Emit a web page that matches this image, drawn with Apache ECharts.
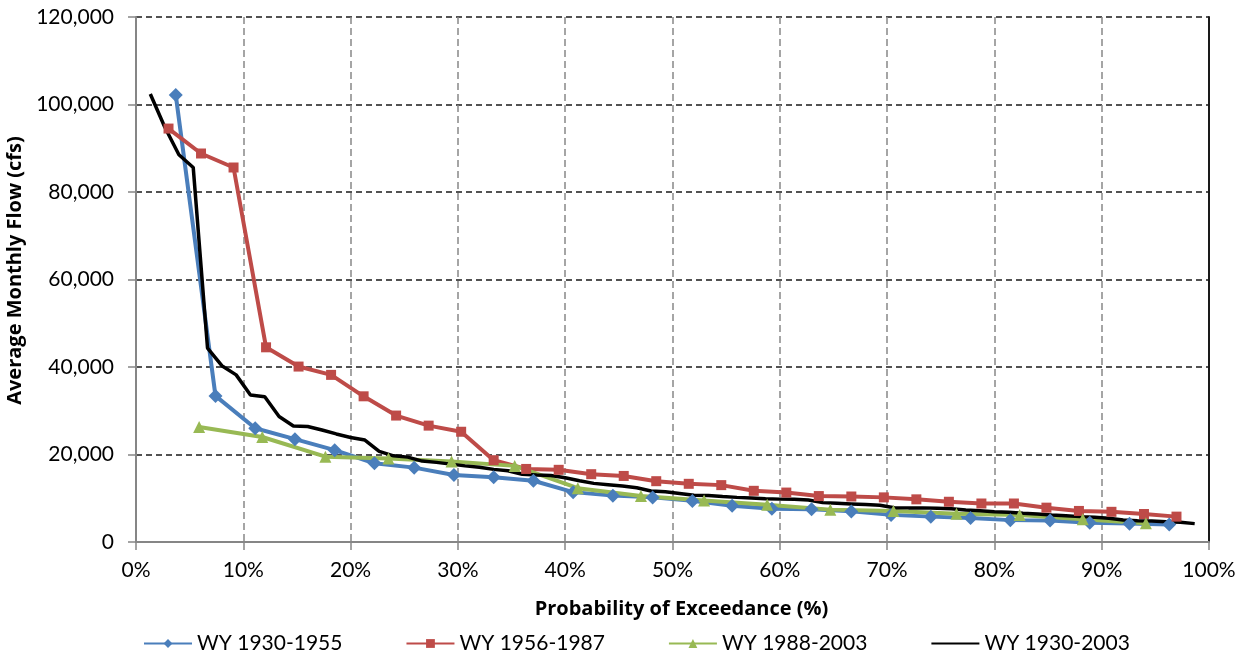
<!DOCTYPE html>
<html>
<head>
<meta charset="utf-8">
<script src="https://cdn.jsdelivr.net/npm/echarts@6/dist/echarts.min.js"></script>
<style>
  html, body { margin: 0; padding: 0; background: #fff; }
  #chart { width: 1246px; height: 657px; }
</style>
</head>
<body>
<div id="chart"></div>
<script>
// Ranked average monthly flows (cfs), highest to lowest, for each water-year period.
const seriesNames = ['WY 1930-1955', 'WY 1956-1987', 'WY 1988-2003', 'WY 1930-2003'];

const flow1930to1955 = [
  102200, 33400, 26000, 23500, 21000, 18000, 17000, 15300, 14800, 14000,
  11400, 10600, 10200, 9400, 8300, 7600, 7500, 7000, 6200, 5800,
  5500, 5000, 4900, 4400, 4200, 4000
];

const flow1956to1987 = [
  94500, 88800, 85600, 44500, 40100, 38200, 33300, 28900, 26600, 25200,
  18700, 16700, 16500, 15500, 15100, 13900, 13300, 13000, 11700, 11300,
  10500, 10400, 10200, 9750, 9200, 8800, 8800, 7850, 7100, 6900,
  6400, 5800
];

const flow1988to2003 = [
  26300, 24000, 19500, 19100, 18400, 17400, 12300, 10500, 9500, 8500,
  7400, 7100, 6450, 6150, 5200, 4300
];

const flow1930to2003 = [
  102400, 94900, 88500, 85600, 44300, 40300, 38200, 33600, 33200, 28700,
  26500, 26400, 25600, 24700, 23900, 23300, 20700, 19700, 19400, 18500,
  18200, 17800, 17400, 17100, 16600, 16300, 15500, 15300, 15200, 14700,
  14000, 13400, 13100, 12800, 12400, 11650, 11500, 11100, 10700, 10650,
  10400, 10200, 10050, 9900, 9800, 9750, 9600, 9000, 8850, 8700,
  8550, 8400, 7850, 7800, 7800, 7700, 7600, 7300, 7150, 6930,
  6780, 6550, 6400, 6170, 6020, 5800, 5640, 5410, 5030, 4870,
  4800, 4650, 4500, 4200
];

const xTicks = [0, 10, 20, 30, 40, 50, 60, 70, 80, 90, 100];
const yTicks = [0, 20000, 40000, 60000, 80000, 100000, 120000];

// Weibull plotting position: rank m of n values has exceedance m / (n + 1).
function exceedancePairs(flows) {
  const n = flows.length;
  return flows.map((q, idx) => [(idx + 1) / (n + 1) * 100, q]);
}

const FONT = 'Lato, "Open Sans", sans-serif';
const TITLE_FONT = '"Open Sans", Lato, sans-serif';

const chart = echarts.init(document.getElementById('chart'), null, { renderer: 'canvas' });

const lineSeries = (name, flows, color, symbol, symbolSize, width) => ({
  name: name,
  type: 'line',
  data: exceedancePairs(flows),
  symbol: symbol,
  symbolSize: symbolSize,
  showSymbol: symbol !== 'none',
  lineStyle: { color: color, width: width },
  itemStyle: { color: color },
  emphasis: { disabled: true },
  animation: false
});

chart.setOption({
  backgroundColor: '#ffffff',
  animation: false,
  grid: { left: 136, right: 37, top: 17, bottom: 115, containLabel: false, outerBoundsMode: 'none' },
  legend: {
    data: [
      { name: seriesNames[0] },
      { name: seriesNames[1] },
      { name: seriesNames[2] },
      { name: seriesNames[3], itemStyle: { opacity: 0 } }
    ],
    top: 628,
    left: 138,
    itemWidth: 48,
    itemHeight: 11,
    itemGap: 63,
    textStyle: { fontFamily: FONT, fontSize: 21, color: '#000' }
  },
  xAxis: {
    type: 'value',
    min: xTicks[0],
    max: xTicks[xTicks.length - 1],
    interval: 10,
    name: 'Probability of Exceedance (%)',
    nameLocation: 'middle',
    nameGap: 57,
    nameTextStyle: { fontFamily: TITLE_FONT, fontSize: 20, fontWeight: 'bold', color: '#000', padding: [0, 0, 0, 18] },
    axisLine: { show: true, lineStyle: { color: '#868686', width: 2 } },
    axisTick: { show: true, inside: false, length: 8, lineStyle: { color: '#868686', width: 1.5 } },
    axisLabel: { formatter: '{value}%', margin: 18, fontFamily: FONT, fontSize: 21, color: '#000' },
    splitLine: { show: true, lineStyle: { color: '#888888', type: [7, 4], width: 1.5 } }
  },
  yAxis: [
    {
      type: 'value',
      min: yTicks[0],
      max: yTicks[yTicks.length - 1],
      interval: 20000,
      name: 'Average Monthly Flow (cfs)',
      nameLocation: 'middle',
      nameGap: 97,
      nameRotate: 90,
      nameTextStyle: { fontFamily: TITLE_FONT, fontSize: 20, fontWeight: 'bold', color: '#000', padding: [0, 0, 0, 18] },
      axisLine: { show: true, lineStyle: { color: '#868686', width: 2 } },
      axisTick: { show: true, inside: false, length: 8, lineStyle: { color: '#868686', width: 1.5 } },
      axisLabel: {
        margin: 22,
        fontFamily: FONT,
        fontSize: 21,
        color: '#000',
        formatter: v => v.toLocaleString('en-US')
      },
      splitLine: { show: true, lineStyle: { color: '#1a1a1a', type: [6, 4], width: 1.5 } }
    },
    {
      type: 'value',
      position: 'right',
      min: yTicks[0],
      max: yTicks[yTicks.length - 1],
      interval: 20000,
      axisLine: { show: true, lineStyle: { color: '#1a1a1a', width: 2 } },
      axisTick: { show: false },
      axisLabel: { show: false },
      splitLine: { show: false }
    }
  ],
  series: [
    lineSeries(seriesNames[0], flow1930to1955, '#4A7EBB', 'diamond', 14, 4),
    lineSeries(seriesNames[1], flow1956to1987, '#BE4B48', 'rect', 10, 4),
    lineSeries(seriesNames[2], flow1988to2003, '#98B954', 'triangle', 12, 4),
    lineSeries(seriesNames[3], flow1930to2003, '#000000', 'none', 0, 3.5)
  ]
});
</script>
</body>
</html>
